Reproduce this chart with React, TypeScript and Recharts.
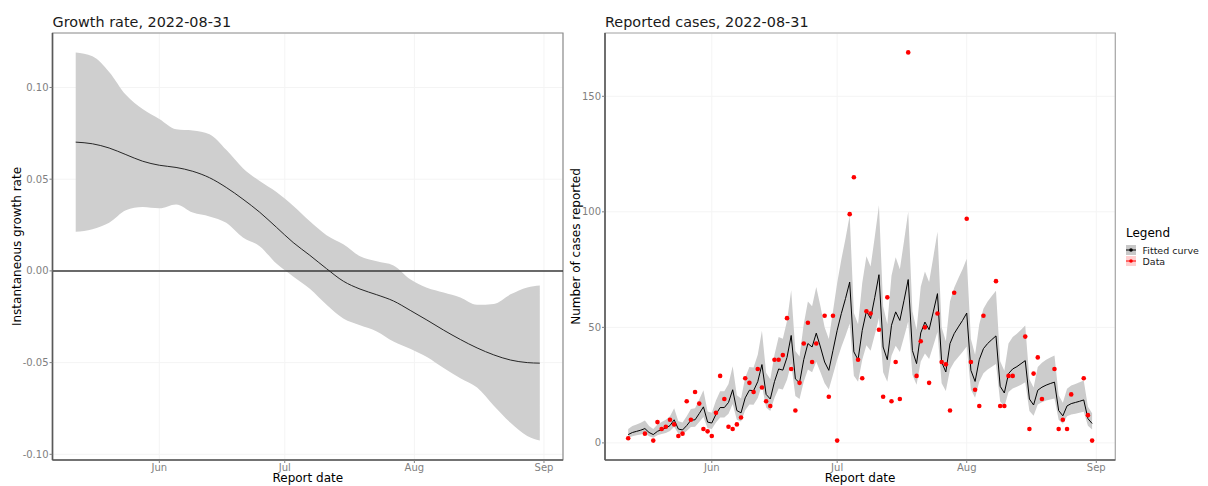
import React from 'react';
import {
  ComposedChart,
  Area,
  Line,
  Scatter,
  XAxis,
  YAxis,
  CartesianGrid,
  ReferenceLine,
  ReferenceArea,
} from 'recharts';

const FONT = '"DejaVu Sans", "Liberation Sans", sans-serif';

// x axis: days since 2022-05-12
const monthTicks = [20, 50, 81, 112];
const monthLabels = ['Jun', 'Jul', 'Aug', 'Sep'];
const xDomain = [-5.55, 116.55];

// ---- Growth rate panel ----
const grDays = [0, 4, 8, 12, 16, 20, 24, 28, 32, 36, 40, 44, 48, 52, 56, 60, 64, 68, 72, 76, 80, 84, 88, 92, 96, 100, 104, 108, 111];
const grFit = [0.0702, 0.0693, 0.067, 0.0634, 0.0598, 0.0576, 0.0564, 0.0543, 0.0508, 0.0455, 0.0391, 0.032, 0.0238, 0.0155, 0.0085, 0.0012, -0.0056, -0.0099, -0.013, -0.0164, -0.0215, -0.0268, -0.0323, -0.0374, -0.042, -0.0458, -0.0486, -0.05, -0.0503];
const grHigh = [0.1191, 0.117, 0.1085, 0.096, 0.0882, 0.0828, 0.0772, 0.0765, 0.0745, 0.066, 0.056, 0.049, 0.043, 0.0355, 0.027, 0.0195, 0.0145, 0.008, 0.0053, 0.003, -0.0045, -0.0092, -0.0118, -0.0145, -0.0185, -0.018, -0.0128, -0.009, -0.008];
const grLow = [0.0213, 0.0227, 0.0262, 0.033, 0.0348, 0.0341, 0.0362, 0.0318, 0.0297, 0.0262, 0.0182, 0.0135, 0.004, -0.003, -0.0098, -0.0185, -0.026, -0.0297, -0.033, -0.0385, -0.0425, -0.047, -0.053, -0.0585, -0.0636, -0.0735, -0.0828, -0.09, -0.0925];
const grTicks = [-0.1, -0.05, 0, 0.05, 0.1];
const grDomain = [-0.1031, 0.1297];

// ---- Reported cases panel ----
const caseFit = [
  3.6, 4.5, 5.0, 5.5, 6.2, 4.5, 3.6, 5.0, 5.8, 6.4,
  7.5, 10, 6, 5.6, 7.5, 9.8, 10, 12.7, 15.6, 9,
  8.6, 12.4, 15.3, 15.3, 17.5, 23, 14, 13, 19.5, 22.8,
  22.6, 26.5, 33.9, 21, 19, 26.5, 32, 31.5, 37, 46.5,
  27.7, 26, 36, 43, 41.5, 47.5, 41.5, 35, 31.4, 40,
  48.7, 56, 62.5, 69.6, 39.4, 36, 48.7, 57, 53.8, 63,
  72.8, 41.5, 36, 50.9, 56.7, 53, 61.7, 70.7, 40, 34.3,
  47.6, 52.3, 49, 56.7, 64.6, 35, 30.7, 43, 47.3, 50.2,
  53, 56.2, 31.4, 26.6, 36, 40.8, 43, 44.7, 46.3, 24.5,
  21.6, 30, 32, 33, 34.3, 35.6, 19, 16.4, 22.8, 24.1,
  25, 25.7, 26.3, 14, 11.7, 16, 17, 17.5, 18, 18.6,
  10.5, 8.4,
];
const caseHigh = [
  6.0, 7.3, 8.0, 8.7, 9.7, 7.3, 6.0, 8.0, 9.1, 10.0,
  11.5, 15.0, 9.4, 8.8, 11.5, 14.7, 15.0, 18.8, 22.8, 13.6,
  13.0, 18.4, 22.4, 22.4, 25.5, 33.2, 20.6, 19.2, 28.3, 32.9,
  32.6, 38.1, 48.5, 30.4, 27.6, 38.1, 45.8, 45.1, 52.8, 66.1,
  39.8, 37.4, 51.4, 61.2, 59.1, 67.5, 59.1, 50.0, 45.0, 57.0,
  69.2, 79.4, 88.5, 98.4, 56.2, 51.4, 69.2, 80.8, 76.3, 89.2,
  102.9, 59.1, 51.4, 72.3, 80.4, 75.2, 87.4, 100.0, 57.0, 49.0,
  67.6, 74.2, 69.6, 80.4, 91.4, 50.0, 44.0, 61.2, 67.2, 71.3,
  75.2, 79.7, 45.0, 38.2, 51.4, 58.1, 61.2, 63.6, 65.8, 35.3,
  31.2, 43.0, 45.8, 47.2, 49.0, 50.8, 27.6, 24.0, 32.9, 34.7,
  36.0, 37.0, 37.8, 20.6, 17.4, 23.4, 24.8, 25.5, 26.2, 27.0,
  15.7, 12.8,
];
const caseLow = [
  2.2, 2.9, 3.3, 3.6, 4.2, 2.9, 2.2, 3.3, 3.9, 4.3,
  5.1, 7.0, 4.0, 3.7, 5.1, 6.9, 7.0, 9.0, 11.2, 6.3,
  6.0, 8.8, 11.0, 11.0, 12.6, 16.8, 10.0, 9.3, 14.1, 16.6,
  16.5, 19.4, 24.9, 15.3, 13.8, 19.4, 23.5, 23.1, 27.3, 34.4,
  20.3, 19.0, 26.5, 31.8, 30.6, 35.1, 30.6, 25.8, 23.1, 29.5,
  36.0, 41.5, 46.4, 51.7, 29.1, 26.5, 36.0, 42.3, 39.9, 46.8,
  54.1, 30.6, 26.5, 37.7, 42.0, 39.3, 45.8, 52.5, 29.5, 25.2,
  35.2, 38.7, 36.3, 42.0, 48.0, 25.8, 22.5, 31.8, 35.0, 37.2,
  39.3, 41.7, 23.1, 19.5, 26.5, 30.1, 31.8, 33.0, 34.2, 17.9,
  15.7, 22.0, 23.5, 24.3, 25.2, 26.2, 13.8, 11.8, 16.6, 17.6,
  18.3, 18.8, 19.2, 10.0, 8.3, 11.5, 12.3, 12.6, 13.0, 13.5,
  7.4, 5.8,
];
const caseObs: (number | null)[] = [
  2, null, null, null, 4, null, 1, 9, 6, 7,
  10, 8, 3, 4, 18, 10, 22, 17, 6, 5,
  3, 13, 29, 19, 7, 6, 8, 11, 28, 26,
  22, 32, 24, 18, 16, 36, 36, 38, 54, 32,
  14, 26, 43, 52, 35, 43, null, 55, 20, 55,
  1, null, null, 99, 115, 36, 28, 57, 56, null,
  49, 20, 63, 18, 35, 19, null, 169, null, 29,
  44, 50, 26, null, 56, 35, 34, 14, 65, null,
  null, 97, 35, 23, 16, 55, null, null, 70, 16,
  16, 29, 29, null, null, 46, 6, 30, 37, 19,
  null, null, 32, 6, 10, 6, 21, null, null, 28,
  12, 1,
];
const caseTicks = [0, 50, 100, 150];
const caseDomain = [-7.4, 177.4];

const grData = grDays.map((d, i) => ({ day: d, fit: grFit[i], band: [grLow[i], grHigh[i]] }));
const caseData = caseFit.map((v, i) => ({ day: i, fit: v, band: [caseLow[i], caseHigh[i]] }));
const obsData = caseObs
  .map((v, i) => ({ day: i, obs: v }))
  .filter((p) => p.obs !== null);

const tickStyle = { fontSize: 10, fill: '#7f7f7f', fontFamily: FONT };
const monthFmt = (v: number) => monthLabels[monthTicks.indexOf(v)] ?? '';

const RedDot = (props: any) => {
  const { cx, cy } = props;
  if (cx == null || cy == null) return null;
  return <circle cx={cx} cy={cy} r={2.3} fill="#ff0000" />;
};

export default function App() {
  return (
    <div style={{ position: 'absolute', left: 0, top: 0, width: 1208, height: 486, background: '#ffffff', overflow: 'hidden' }}>
      <div style={{ position: 'absolute', left: 0, top: 0 }}>
        <ComposedChart width={570} height={486} data={grData} margin={{ top: 33, right: 7, bottom: 6, left: 0 }}>
          <CartesianGrid stroke="#f4f4f4" strokeWidth={1} />
          <XAxis
            dataKey="day"
            type="number"
            domain={xDomain}
            allowDataOverflow
            ticks={monthTicks}
            interval={0}
            tickFormatter={monthFmt}
            height={20}
            tickSize={3}
            tickMargin={1}
            tick={tickStyle}
            tickLine={{ stroke: '#7f7f7f' }}
            axisLine={{ stroke: '#595959', strokeWidth: 1.6 }}
          />
          <YAxis
            type="number"
            domain={grDomain}
            allowDataOverflow
            ticks={grTicks}
            interval={0}
            tickFormatter={(v: number) => v.toFixed(2)}
            width={52.5}
            tickSize={3}
            tickMargin={1}
            tick={tickStyle}
            tickLine={{ stroke: '#7f7f7f' }}
            axisLine={{ stroke: '#595959', strokeWidth: 1.6 }}
          />
          <ReferenceArea x1={xDomain[0]} x2={xDomain[1]} y1={grDomain[0]} y2={grDomain[1]} fill="none" stroke="#8c8c8c" strokeWidth={1.2} />
          <Area type="monotone" dataKey="band" stroke="none" fill="#cfcfcf" fillOpacity={1} isAnimationActive={false} activeDot={false} />
          <ReferenceLine y={0} stroke="#3a3a3a" strokeWidth={1.5} />
          <Line type="monotone" dataKey="fit" stroke="#262626" strokeWidth={1} dot={false} activeDot={false} isAnimationActive={false} />
        </ComposedChart>
      </div>
      <div style={{ position: 'absolute', left: 560, top: 0 }}>
        <ComposedChart width={560} height={486} data={caseData} margin={{ top: 33, right: 4.7, bottom: 6, left: 0 }}>
          <CartesianGrid stroke="#f4f4f4" strokeWidth={1} />
          <XAxis
            dataKey="day"
            type="number"
            domain={xDomain}
            allowDataOverflow
            ticks={monthTicks}
            interval={0}
            tickFormatter={monthFmt}
            height={20}
            tickSize={3}
            tickMargin={1}
            tick={tickStyle}
            tickLine={{ stroke: '#7f7f7f' }}
            axisLine={{ stroke: '#595959', strokeWidth: 1.6 }}
          />
          <YAxis
            type="number"
            domain={caseDomain}
            allowDataOverflow
            ticks={caseTicks}
            interval={0}
            width={45}
            tickSize={3}
            tickMargin={1}
            tick={tickStyle}
            tickLine={{ stroke: '#7f7f7f' }}
            axisLine={{ stroke: '#595959', strokeWidth: 1.6 }}
          />
          <ReferenceArea x1={xDomain[0]} x2={xDomain[1]} y1={caseDomain[0]} y2={caseDomain[1]} fill="none" stroke="#a6a6a6" strokeWidth={1.2} />
          <Area type="linear" dataKey="band" stroke="none" fill="#cccccc" fillOpacity={1} isAnimationActive={false} activeDot={false} />
          <Line type="linear" dataKey="fit" stroke="#000000" strokeWidth={1} dot={false} activeDot={false} isAnimationActive={false} />
          <Scatter data={obsData} dataKey="obs" fill="#ff0000" shape={RedDot} isAnimationActive={false} />
        </ComposedChart>
      </div>
      <svg width={1208} height={486} style={{ position: 'absolute', left: 0, top: 0, pointerEvents: 'none' }} fontFamily={FONT}>
        <text x={52.5} y={26.5} fontSize={14.4} fill="#1a1a1a">Growth rate, 2022-08-31</text>
        <text x={605} y={26.5} fontSize={14.4} fill="#1a1a1a">Reported cases, 2022-08-31</text>
        <text x={307.8} y={482} fontSize={12} textAnchor="middle" fill="#000">Report date</text>
        <text x={860} y={482} fontSize={12} textAnchor="middle" fill="#000">Report date</text>
        <text transform="translate(20.5,246.5) rotate(-90)" fontSize={12} textAnchor="middle" fill="#000">Instantaneous growth rate</text>
        <text transform="translate(579.8,246.5) rotate(-90)" fontSize={12} textAnchor="middle" fill="#000">Number of cases reported</text>
        <text x={1126} y={237} fontSize={12} fill="#000">Legend</text>
        <rect x={1126} y={245} width={10} height={10} fill="#c8c8c8" />
        <line x1={1126} x2={1136} y1={250} y2={250} stroke="#000" strokeWidth={1} />
        <circle cx={1131} cy={250} r={1.8} fill="#000" />
        <text x={1142.5} y={253.5} fontSize={9.5} fill="#1a1a1a">Fitted curve</text>
        <rect x={1126} y={256} width={10} height={10} fill="#ffcfcf" />
        <line x1={1126} x2={1136} y1={261} y2={261} stroke="#ff0000" strokeWidth={1} />
        <circle cx={1131} cy={261} r={1.8} fill="#ff0000" />
        <text x={1142.5} y={264.5} fontSize={9.5} fill="#1a1a1a">Data</text>
      </svg>
    </div>
  );
}
